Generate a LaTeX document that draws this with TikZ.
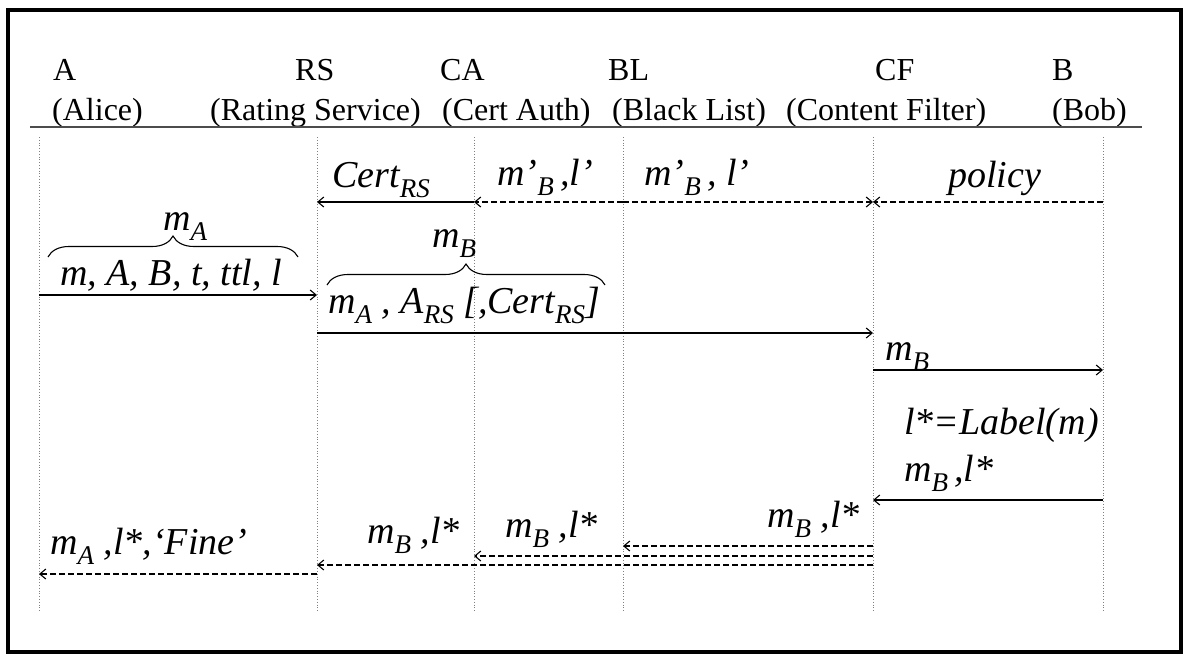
\documentclass[tikz,border=0pt]{standalone}
\usepackage{fontspec}
\setmainfont{Liberation Serif}
\usetikzlibrary{arrows.meta,decorations.pathreplacing}
\tikzset{
  hdr/.style={anchor=base west, inner sep=0pt, font=\fontsize{32}{38}\selectfont},
  lbl/.style={anchor=base west, inner sep=0pt, font=\fontsize{38}{44}\selectfont\itshape},
  life/.style={dotted, gray, line width=0.8pt},
  msg/.style={line width=1.1pt, -{Straight Barb[length=6pt,width=10pt]}},
  dmsg/.style={msg, dash pattern=on 6pt off 3pt},
  brc/.style={decorate, decoration={brace, amplitude=21pt}, line width=1.1pt},
}
\newcommand{\sbs}[1]{\raisebox{-0.28em}{\fontsize{27}{27}\selectfont #1}}
\begin{document}
\begin{tikzpicture}[x=1pt,y=-1pt]
\useasboundingbox (0,0) rectangle (1186,654);
\draw[line width=3.5pt] (8,10) rectangle (1181,652);

% headers
\node[hdr] (hA)  at (53,80)   {A};
\node[hdr] (hRS) at (295,80)  {RS};
\node[hdr] (hCA) at (440,80)  {CA};
\node[hdr] (hBL) at (608,80)  {BL};
\node[hdr] (hCF) at (875,80)  {CF};
\node[hdr] (hB)  at (1052,80) {B};
\node[hdr] (nA)  at (52,120)   {(Alice)};
\node[hdr] (nRS) at (210,120)  {(Rating Service)};
\node[hdr] (nCA) at (442,120)  {(Cert Auth)};
\node[hdr] (nBL) at (612,120)  {(Black List)};
\node[hdr] (nCF) at (786,120)  {(Content Filter)};
\node[hdr] (nB)  at (1052,120) {(Bob)};
\coordinate (ruleL) at (30,127);
\coordinate (ruleR) at (1142,127);
\draw[line width=1.5pt, black!70] (ruleL) -- (ruleR);

% lifelines
\foreach \n/\x in {A/39,RS/317,CA/474,BL/623,CF/873,B/1103}{
  \coordinate (\n) at (\x,137);
  \coordinate (\n-e) at (\x,612);
  \draw[life] (\n) -- (\n-e);
}

% message rows
\coordinate (y1) at (0,202);
\coordinate (y2) at (0,295);
\coordinate (y3) at (0,333);
\coordinate (y4) at (0,370);
\coordinate (y5) at (0,500);
\coordinate (y6) at (0,546);
\coordinate (y7) at (0,556);
\coordinate (y8) at (0,565);
\coordinate (y9) at (0,574);

\draw[msg]  (CA |- y1) -- (RS |- y1);
\draw[dmsg] (BL |- y1) -- (CA |- y1);
\draw[dmsg] (BL |- y1) -- (CF |- y1);
\draw[dmsg] (B |- y1)  -- (CF |- y1);
\draw[msg]  (A |- y2)  -- (RS |- y2);
\draw[msg]  (RS |- y3) -- (CF |- y3);
\draw[msg]  (CF |- y4) -- (B |- y4);
\draw[msg]  (B |- y5)  -- (CF |- y5);
\draw[dmsg] (CF |- y6) -- (BL |- y6);
\draw[dmsg] (CF |- y7) -- (CA |- y7);
\draw[dmsg] (CF |- y8) -- (RS |- y8);
\draw[dmsg] (RS |- y9) -- (A |- y9);

% braces
\coordinate (bA1) at (48,257);
\coordinate (bA2) at (298,257);
\coordinate (bB1) at (327,285);
\coordinate (bB2) at (605,285);
\draw[brc] (bA1) -- (bA2);
\draw[brc] (bB1) -- (bB2);

% labels
\node[lbl] (lcert) at (332,187) {Cert\sbs{RS}};
\node[lbl] (lbl1)  at (497,185) {m’\sbs{B}\,,l’};
\node[lbl] (lbl2)  at (644,185) {m’\sbs{B}\,, l’};
\node[lbl] (lpol)  at (948,187) {policy};
\node[lbl] (lmA)   at (163,230) {m\sbs{A}};
\node[lbl] (lmsg)  at (60,285)  {m, A, B, t, ttl, l};
\node[lbl] (lmB)   at (432,247) {m\sbs{B}};
\node[lbl] (lmsgB) at (328,313) {m\sbs{A} , A\sbs{RS} [,Cert\sbs{RS}]};
\node[lbl] (lcfb)  at (885,360) {m\sbs{B}};
\node[lbl] (llab)  at (904,434) {l*=Label(m)};
\node[lbl] (lbcf)  at (904,481) {m\sbs{B}\,,l*};
\node[lbl] (lcf1)  at (767,527) {m\sbs{B} ,l*};
\node[lbl] (lcf2)  at (505,537) {m\sbs{B} ,l*};
\node[lbl] (lcf3)  at (367,543) {m\sbs{B} ,l*};
\node[lbl] (lfine) at (50,554)  {m\sbs{A} ,l*,‘Fine’};
\end{tikzpicture}
\end{document}
